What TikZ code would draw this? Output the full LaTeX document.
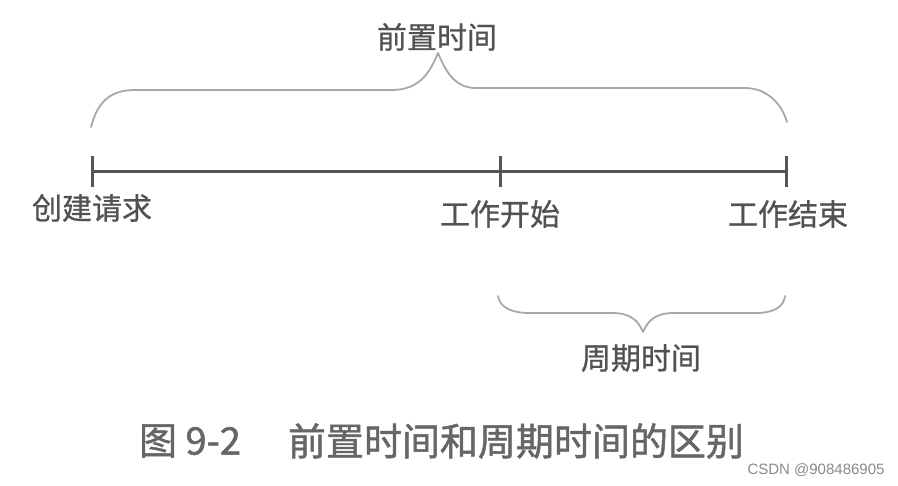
\documentclass[tikz,border=0pt]{standalone}
\usepackage{fontspec}
\newfontfamily\cjk[FakeBold=0.8]{Noto Sans CJK SC}
\newfontfamily\cjkcap[FakeBold=1.3]{Noto Sans CJK SC}
\setsansfont{Liberation Sans}
\definecolor{txtgray}{HTML}{525252}
\definecolor{capgray}{HTML}{666666}
\definecolor{linegray}{HTML}{555555}
\definecolor{bracegray}{HTML}{A8A8A8}
\definecolor{wmgray}{HTML}{8A8A8A}
\tikzset{
  lbl/.style={text=txtgray, font=\cjk\fontsize{30}{32}\selectfont, inner sep=0pt, anchor=center},
  captext/.style={text=capgray, font=\cjkcap\fontsize{38}{40}\selectfont, inner sep=0pt, anchor=center},
  tline/.style={draw=linegray, line width=3pt},
  tickmark/.style={draw=linegray, line width=3pt},
  bracepath/.style={draw=bracegray, line width=1.8pt, line cap=round, line join=round},
  wmtext/.style={text=wmgray, font=\sffamily\fontsize{15}{17}\selectfont, inner sep=0pt, anchor=center}
}
\begin{document}
\begin{tikzpicture}[x=1pt, y=-1pt]
\useasboundingbox (0,0) rectangle (898,486);
\fill[white] (0,0) rectangle (898,486);
% timeline
\coordinate (t1) at (92,172);
\coordinate (t2) at (500,172);
\coordinate (t3) at (786,172);
\draw[tline] (t1) -- (t2) -- (t3);
\foreach \c in {t1,t2,t3} {
  \draw[tickmark] ([yshift=-15pt]\c) -- ([yshift=16pt]\c);
}
\node[lbl] (create) at (92,208) {创建请求};
\node[lbl] (wstart) at (500,214) {工作开始};
\node[lbl] (wend) at (788,214) {工作结束};
% top brace
\coordinate (b1l) at (91,127);
\coordinate (b1tip) at (438,53);
\coordinate (b1r) at (787,122);
\draw[bracepath] (b1l) .. controls (98,100) and (112,90) .. (135,90)
  -- (392,90) .. controls (420,90) and (430,72) .. (b1tip)
  .. controls (446,72) and (455,88) .. (476,88)
  -- (745,88) .. controls (768,88) and (782,105) .. (b1r);
\node[lbl] (lead) at (437,37) {前置时间};
% bottom brace
\coordinate (b2l) at (498,296);
\coordinate (b2tip) at (643,332);
\coordinate (b2r) at (785,296);
\draw[bracepath] (b2l) .. controls (500,308) and (512,313) .. (530,313)
  -- (612,313) .. controls (630,313) and (638,320) .. (b2tip)
  .. controls (648,320) and (656,313) .. (674,313)
  -- (756,313) .. controls (775,313) and (784,306) .. (b2r);
\node[lbl] (cycle) at (641,358) {周期时间};
% caption
\node[captext] (capnum) at (190,441) {图 9-2};
\node[captext] (captxt) at (516,441) {前置时间和周期时间的区别};
\node[wmtext] (wmark) at (816,470) {CSDN @908486905};
\end{tikzpicture}
\end{document}
